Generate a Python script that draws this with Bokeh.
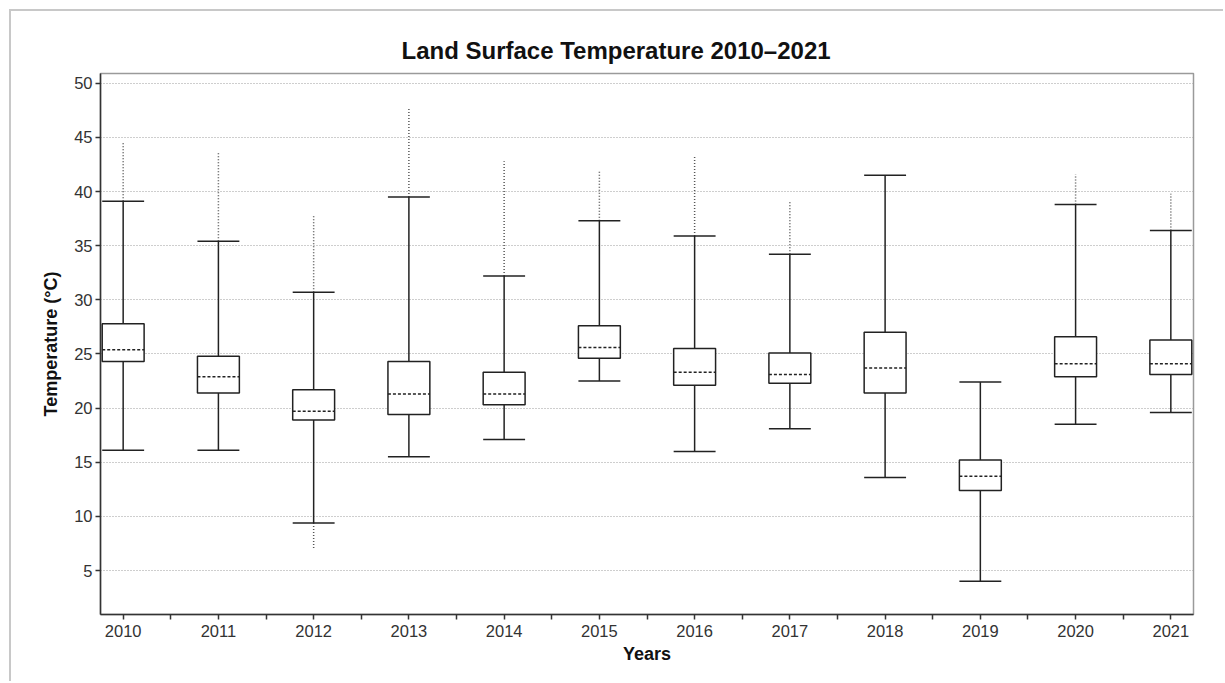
import math

from bokeh.embed import file_html
from bokeh.models import ColumnDataSource, FixedTicker, Range1d
from bokeh.plotting import figure
from bokeh.resources import INLINE

# Yearly land surface temperature distributions (°C)
years = ["2010", "2011", "2012", "2013", "2014", "2015",
         "2016", "2017", "2018", "2019", "2020", "2021"]
whisker_lo = [16.1, 16.1, 9.4, 15.5, 17.1, 22.5, 16.0, 18.1, 13.6, 4.0, 18.5, 19.6]
q1 = [24.3, 21.4, 18.9, 19.4, 20.3, 24.6, 22.1, 22.3, 21.4, 12.4, 22.9, 23.1]
median = [25.4, 22.9, 19.7, 21.3, 21.3, 25.6, 23.3, 23.1, 23.7, 13.7, 24.1, 24.1]
q3 = [27.8, 24.8, 21.7, 24.3, 23.3, 27.6, 25.5, 25.1, 27.0, 15.2, 26.6, 26.3]
whisker_hi = [39.1, 35.4, 30.7, 39.5, 32.2, 37.3, 35.9, 34.2, 41.5, 22.4, 38.8, 36.4]
# extent of the outlying observations beyond the whiskers (nan = none)
outlier_max = [44.6, 43.6, 37.9, 47.8, 42.8, 41.9, 43.2, 39.0,
               math.nan, math.nan, 41.6, 39.8]
outlier_min = [math.nan, math.nan, 6.9, math.nan, math.nan, math.nan,
               math.nan, math.nan, math.nan, math.nan, math.nan, math.nan]
y_ticks = [5, 10, 15, 20, 25, 30, 35, 40, 45, 50]

FONT = "Liberation Sans"
INK = "#222222"
HALF = 0.22
LW = 1.5

xs = list(range(len(years)))
src = ColumnDataSource(dict(
    x=xs,
    left=[x - HALF for x in xs],
    right=[x + HALF for x in xs],
    lo=whisker_lo, q1=q1, med=median, q3=q3, hi=whisker_hi,
    omax=outlier_max, omin=outlier_min,
))

p = figure(
    width=1214, height=672,
    x_range=Range1d(-0.238, 11.238),
    y_range=Range1d(0.94, 50.9),
    title="Land Surface Temperature 2010\u20132021",
    x_axis_label="Years",
    y_axis_label="Temperature (\u00b0C)",
    output_backend="svg",
    toolbar_location=None,
    min_border_left=89, min_border_right=32,
    min_border_top=62, min_border_bottom=69,
)
p.styles = {
    "margin-left": "9px",
    "margin-top": "9px",
    "border-left": "2px solid #c8c8c8",
    "border-top": "2px solid #c8c8c8",
}

# title
p.title.text_font = FONT
p.title.text_font_size = "24px"
p.title.text_font_style = "bold"
p.title.text_color = "#111111"
p.title.align = "left"
p.title.offset = 301
p.title.standoff = 19

# frame and grid
p.outline_line_color = "#9a9a9a"
p.outline_line_width = 1.5
p.xgrid.grid_line_color = None
p.ygrid.grid_line_color = "#9c9c9c"
p.ygrid.grid_line_dash = "1 2"
p.ygrid.grid_line_width = 1

# axes
for ax in (p.xaxis[0], p.yaxis[0]):
    ax.axis_line_color = "#333333"
    ax.axis_line_width = 1.5
    ax.major_tick_line_color = "#333333"
    ax.major_tick_line_width = 1.5
    ax.major_tick_out = 5
    ax.major_tick_in = 0
    ax.minor_tick_line_color = "#333333"
    ax.minor_tick_line_width = 1.5
    ax.minor_tick_out = 5
    ax.minor_tick_in = 0
    ax.major_label_text_font = FONT
    ax.major_label_text_font_size = "16.5px"
    ax.major_label_text_color = "#333333"
    ax.axis_label_text_font = FONT
    ax.axis_label_text_font_size = "18px"
    ax.axis_label_text_font_style = "bold"
    ax.axis_label_text_color = "#111111"

p.xaxis.ticker = FixedTicker(ticks=xs, minor_ticks=[x + 0.5 for x in xs[:-1]])
p.xaxis.major_label_overrides = {x: y for x, y in zip(xs, years)}
p.xaxis.major_label_standoff = 5
p.xaxis.axis_label_standoff = 4

p.yaxis.ticker = FixedTicker(ticks=y_ticks, minor_ticks=[])
p.yaxis.major_label_standoff = 3
p.yaxis.axis_label_standoff = 10

# outliers, shown as dotted runs beyond the whiskers
p.segment(x0="x", y0="hi", x1="x", y1="omax", source=src,
          line_color="#555555", line_width=1.5, line_dash="1 2")
p.segment(x0="x", y0="lo", x1="x", y1="omin", source=src,
          line_color="#555555", line_width=1.5, line_dash="1 2")

# whisker stems and caps
p.segment(x0="x", y0="q3", x1="x", y1="hi", source=src, line_color=INK, line_width=LW)
p.segment(x0="x", y0="q1", x1="x", y1="lo", source=src, line_color=INK, line_width=LW)
p.segment(x0="left", y0="hi", x1="right", y1="hi", source=src, line_color=INK, line_width=LW)
p.segment(x0="left", y0="lo", x1="right", y1="lo", source=src, line_color=INK, line_width=LW)

# interquartile boxes and medians
p.quad(left="left", right="right", bottom="q1", top="q3", source=src,
       fill_color="white", line_color=INK, line_width=LW)
p.segment(x0="left", y0="med", x1="right", y1="med", source=src,
          line_color=INK, line_width=LW, line_dash="3 2")

open("out.html", "w").write(file_html(p, INLINE))
